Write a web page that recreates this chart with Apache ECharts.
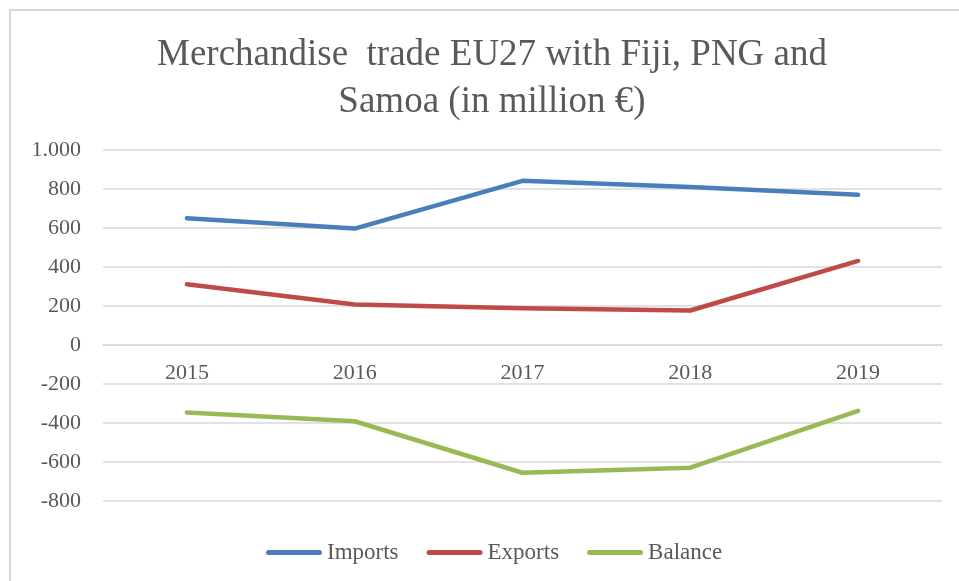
<!DOCTYPE html>
<html>
<head>
<meta charset="utf-8">
<script src="https://cdn.jsdelivr.net/npm/echarts@6/dist/echarts.min.js"></script>
<style>
  html, body { margin: 0; padding: 0; background: #ffffff; }
  #chart { width: 959px; height: 581px; }
</style>
</head>
<body>
<div id="chart"></div>
<script>
// Trade figures, million EUR
var years = ['2015', '2016', '2017', '2018', '2019'];
var imports = [650, 597, 842, 810, 770];
var exports = [312, 208, 188, 177, 431];
var balance = [-346, -391, -655, -629, -338];
var yTicks = { min: -800, max: 1000, interval: 200 };

var SERIF = '"Liberation Serif", "Times New Roman", serif';
var TEXT = '#595959';
var GRID = '#d9d9d9';

var H = 581, GRID_TOP = 150, GRID_BOTTOM = 80;
var plotH = H - GRID_TOP - GRID_BOTTOM;
// the category axis sits on the zero line of the value axis
var zeroOffset = -plotH * (0 - yTicks.min) / (yTicks.max - yTicks.min);

function fmt(v) {
  // thousands separator as a dot
  var s = String(Math.abs(v)).replace(/\B(?=(\d{3})+(?!\d))/g, '.');
  return (v < 0 ? '-' : '') + s;
}

function lineSeries(name, data, color) {
  return {
    name: name,
    type: 'line',
    data: data,
    symbol: 'none',
    lineStyle: { color: color, width: 4.5, cap: 'round', join: 'round' },
    itemStyle: { color: color }
  };
}

// rounded bar used as legend key
var KEY = 'path://M2.5,0 H53.5 A2.5,2.5 0 0 1 53.5,5 H2.5 A2.5,2.5 0 0 1 2.5,0 Z';

var chart = echarts.init(document.getElementById('chart'), null, { renderer: 'canvas' });
chart.setOption({
  animation: false,
  backgroundColor: '#ffffff',
  graphic: [{
    type: 'rect',
    shape: { x: 10, y: 10, width: 1000, height: 1000 },
    style: { fill: 'none', stroke: '#d9d9d9', lineWidth: 2 },
    silent: true
  }],
  title: {
    text: 'Merchandise  trade EU27 with Fiji, PNG and\nSamoa (in million €)',
    left: 487,
    textAlign: 'center',
    top: 27,
    textStyle: {
      fontFamily: SERIF, fontSize: 37, fontWeight: 'normal',
      color: TEXT, lineHeight: 47
    }
  },
  legend: {
    left: 261,
    top: 536,
    itemWidth: 56,
    itemHeight: 5,
    itemGap: 28,
    icon: KEY,
    textStyle: { fontFamily: SERIF, fontSize: 23, color: TEXT, padding: [1, 0, 0, 0] },
    data: ['Imports', 'Exports', 'Balance']
  },
  grid: { left: 103, right: 17, top: GRID_TOP, bottom: GRID_BOTTOM, containLabel: false },
  xAxis: {
    type: 'category',
    data: years,
    boundaryGap: true,
    offset: zeroOffset,
    axisLine: { show: true, onZero: false, lineStyle: { color: GRID, width: 1.5 } },
    axisTick: { show: false },
    axisLabel: {
      fontFamily: SERIF, fontSize: 22, color: TEXT, margin: 17, lineHeight: 22
    }
  },
  yAxis: {
    type: 'value',
    min: yTicks.min,
    max: yTicks.max,
    interval: yTicks.interval,
    axisLine: { show: false },
    axisTick: { show: false },
    splitLine: { lineStyle: { color: GRID, width: 1.5 } },
    axisLabel: {
      fontFamily: SERIF, fontSize: 22, color: TEXT, margin: 22,
      formatter: fmt
    }
  },
  series: [
    lineSeries('Imports', imports, '#4a7ebb'),
    lineSeries('Exports', exports, '#be4b48'),
    lineSeries('Balance', balance, '#98b954')
  ]
});
</script>
</body>
</html>
